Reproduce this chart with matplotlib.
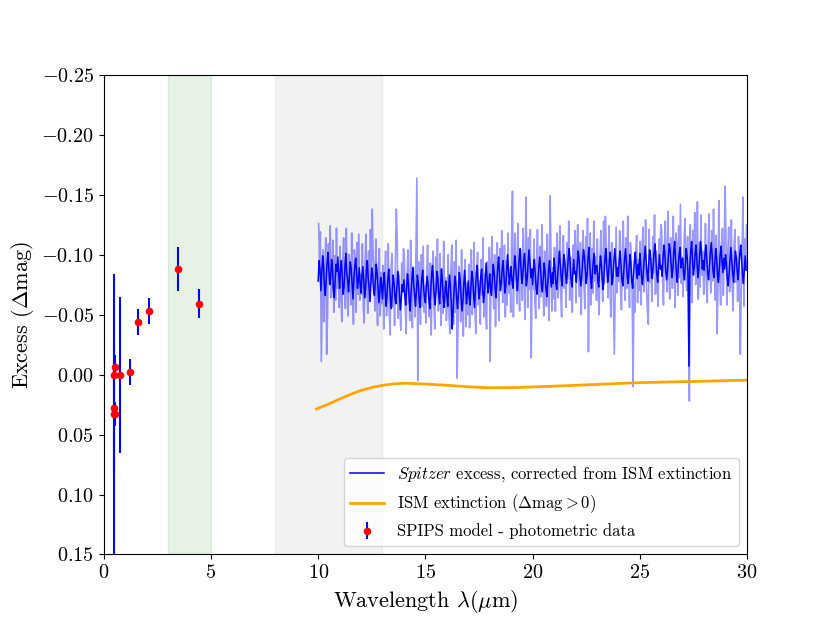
import numpy as np
import matplotlib
matplotlib.use("Agg")
import matplotlib.pyplot as plt

plt.rcParams['font.family'] = 'serif'
plt.rcParams['font.serif'] = ['cmr10', 'DejaVu Serif']
plt.rcParams['mathtext.fontset'] = 'cm'
plt.rcParams['axes.formatter.use_mathtext'] = True
plt.rcParams['xtick.labelsize'] = 14.5
plt.rcParams['ytick.labelsize'] = 14.5
plt.rcParams['axes.labelsize'] = 16
plt.rcParams['legend.fontsize'] = 12

# SPIPS model - photometric data (wavelength in um, excess, error)
phot_wl = [0.47, 0.49, 0.48, 0.51, 0.53, 0.76, 1.23, 1.60, 2.12, 3.48, 4.42]
phot_exc = [0.033, 0.028, 0.000, -0.006, 0.033, 0.000, -0.002, -0.044, -0.053, -0.088, -0.059]
phot_err = [0.117, 0.053, 0.010, 0.010, 0.010, 0.065, 0.011, 0.011, 0.011, 0.018, 0.012]

# ISM extinction curve
ism_wl = [9.92, 10.5, 11.01, 11.5, 11.95, 12.5, 12.96, 13.5, 14.05, 15.0, 16.15, 17.0,
          18.0, 19.26, 20.5, 22.06, 23.4, 24.7, 26.0, 27.35, 28.7, 30.0]
ism_mag = [0.0287, 0.0245, 0.0203, 0.0166, 0.0135, 0.0108, 0.0091, 0.0078, 0.0072, 0.0079, 0.0091, 0.0102,
           0.0110, 0.0108, 0.0100, 0.0089, 0.0079, 0.0069, 0.0063, 0.0058, 0.0052, 0.0047]

# Spitzer excess in mmag, main trace, 24 samples per micron from 10 um
spitzer_dark_mmag = [
    -78, -95, -88, -70, -84, -99, -91, -73, -66, -80, -93, -102, -87, -75, -81, -96, -90, -71, -64, -79, -92, -86, -98, -83,
    -72, -88, -95, -81, -67, -74, -90, -101, -85, -78, -69, -83, -94, -88, -76, -63, -80, -91, -97, -84, -72, -79, -89, -75,
    -68, -82, -90, -79, -64, -71, -87, -95, -80, -73, -61, -76, -89, -84, -70, -66, -78, -92, -85, -72, -60, -69, -81, -74,
    -63, -77, -85, -70, -57, -66, -80, -88, -74, -62, -55, -71, -83, -76, -64, -59, -72, -86, -79, -67, -54, -63, -75, -69,
    -79, -65, -58, -72, -84, -76, -61, -53, -68, -81, -89, -74, -66, -57, -70, -83, -77, -63, -56, -69, -80, -87, -72, -64,
    -60, -73, -82, -75, -62, -55, -69, -84, -91, -77, -65, -58, -71, -86, -80, -66, -59, -74, -88, -79, -63, -56, -70, -78,
    -66, -57, -71, -83, -74, -60, -38, -52, -69, -82, -77, -63, -55, -68, -85, -79, -64, -53, -61, -76, -87, -72, -59, -67,
    -78, -65, -58, -73, -86, -80, -67, -56, -70, -84, -91, -76, -63, -69, -82, -88, -74, -60, -66, -79, -93, -81, -68, -75,
    -84, -71, -66, -80, -92, -85, -72, -64, -77, -90, -98, -83, -70, -76, -89, -95, -81, -68, -74, -87, -100, -88, -75, -82,
    -90, -78, -72, -86, -99, -92, -79, -70, -83, -96, -105, -89, -76, -82, -95, -101, -87, -74, -80, -93, -104, -94, -81, -88,
    -75, -89, -96, -84, -72, -67, -78, -90, -98, -87, -74, -69, -81, -93, -86, -71, -65, -77, -88, -95, -82, -73, -85, -76,
    -97, -89, -77, -71, -82, -94, -103, -92, -81, -74, -88, -100, -95, -83, -76, -87, -98, -105, -93, -80, -73, -85, -96, -84,
    -86, -77, -92, -103, -96, -82, -74, -81, -94, -104, -99, -87, -76, -83, -97, -106, -92, -80, -72, -85, -95, -101, -84, -90,
    -91, -78, -73, -87, -99, -92, -79, -71, -84, -97, -105, -90, -77, -83, -96, -102, -88, -75, -81, -94, -105, -95, -82, -89,
    -82, -96, -103, -91, -79, -74, -85, -97, -105, -94, -81, -76, -88, -100, -93, -78, -72, -84, -95, -102, -89, -80, -92, -83,
    -101, -93, -81, -75, -86, -98, -107, -96, -85, -78, -92, -104, -99, -87, -80, -91, -102, -109, -97, -84, -77, -89, -100, -88,
    -91, -82, -97, -108, -101, -87, -79, -86, -99, -109, -104, -92, -81, -88, -102, -111, -97, -85, -77, -90, -100, -106, -89, -95,
    -97, -84, -79, -93, -105, -98, -85, -7, -90, -103, -111, -96, -83, -89, -102, -108, -94, -81, -87, -100, -111, -101, -88, -95,
    -87, -101, -108, -96, -84, -79, -90, -102, -110, -99, -86, -81, -93, -105, -98, -83, -77, -89, -100, -107, -94, -85, -97, -88,
    -100, -92, -80, -74, -85, -97, -106, -95, -84, -77, -91, -103, -98, -86, -79, -90, -101, -108, -96, -83, -76, -88, -99, -87,
]

# Spitzer excess in mmag, noisier trace, offset by half a sample
spitzer_light_mmag = [
    -126, -96, -119, -11, -59, -104, -44, -89, -114, -17, -49, -109, -79, -124, -64, -74, -112, -52, -99, -62, -122, -72, -92, -56,
    -107, -64, -44, -92, -114, -77, -55, -122, -70, -49, -100, -87, -58, -118, -74, -42, -104, -94, -52, -110, -67, -117, -62, -84,
    -67, -109, -57, -43, -94, -117, -73, -51, -103, -61, -121, -76, -138, -99, -87, -53, -113, -65, -41, -91, -105, -49, -85, -59,
    -91, -38, -81, -103, -49, -63, -109, -53, -33, -87, -101, -57, -77, -41, -95, -138, -113, -47, -83, -55, -37, -93, -69, -105,
    -97, -54, -34, -82, -104, -67, -45, -112, -60, -39, -90, -77, -48, -108, -164, 5, -94, -84, -42, -100, -57, -107, -52, -74,
    -43, -85, -108, -65, -48, -93, -33, -78, -103, -58, -38, -98, -68, -113, -53, -63, -101, -41, -88, -51, -111, -61, -81, -45,
    -58, -100, -48, -34, -85, -108, -64, -42, -94, -52, -112, 3, -36, -90, -78, -44, -104, -56, -32, -82, -96, -40, -76, -50,
    -92, -39, -82, -104, -50, -64, -110, -54, -34, -88, -102, -58, -78, -42, -96, -66, -114, -48, -84, -56, -38, -94, -70, -106,
    -11, -92, -115, -72, -55, -100, -40, -85, -110, -65, -45, -105, -75, -120, -60, -70, -108, -48, -95, -58, -118, -68, -88, -52,
    -111, -153, -48, -96, -118, -81, -59, -126, -74, -53, -104, -91, -62, -122, -78, -46, -148, -98, -56, -114, -71, -121, -14, -88,
    -71, -113, -61, -47, -98, -121, -77, -55, -107, -65, -125, -80, -49, -103, -91, -57, -117, -69, -45, -149, -109, -53, -89, -63,
    -106, -53, -96, -118, -64, -78, -124, -68, -48, -102, -116, -72, -92, -56, -110, -80, -128, -62, -98, -70, -52, -108, -84, -120,
    -60, -102, -125, -82, -65, -110, -50, -95, -120, -75, -55, -115, -85, -130, -19, -80, -118, -58, -105, -68, -128, -78, -98, -62,
    -113, -70, -50, -98, -120, -83, -61, -128, -76, -132, -106, -93, -64, -124, -80, -48, -110, -100, -58, -17, -73, -123, -68, -90,
    -78, -120, -68, -54, -105, -128, -84, -62, -114, -72, -132, -87, -56, -110, -98, -64, 10, -76, -52, -102, -116, -60, -96, -70,
    -111, -58, -101, -123, -69, -83, -129, -73, -53, -42, -121, -77, -97, -61, -115, -85, -133, -67, -103, -75, -57, -113, -89, -125,
    -121, -78, -58, -106, -128, -91, -69, -136, -84, -63, -114, -101, -72, -132, -88, -56, -118, -108, -66, -124, -81, -142, -76, -98,
    -65, -107, -130, -87, -70, -115, -55, 22, -125, -80, -60, -120, -90, -135, -75, -85, -144, -63, -110, -73, -133, -83, -103, -67,
    -84, -126, -74, -60, -111, -134, -90, -68, -120, -78, -138, -93, -62, -116, -34, -70, -145, -82, -58, -108, -122, -66, -102, -157,
    -111, -58, -101, -123, -69, -83, -129, -73, -53, -107, -121, -77, -97, -61, -115, -85, -17, -67, -103, -148, -57, -113, -89, -125,
]

spitzer_dark = np.array(spitzer_dark_mmag) / 1000
spitzer_light = np.array(spitzer_light_mmag) / 1000
wl_dark = 10 + np.arange(len(spitzer_dark)) / 24
wl_light = 10 + (np.arange(len(spitzer_light)) + 0.5) / 24

fig, ax = plt.subplots(figsize=(8.3, 6.23), dpi=100)

ax.axvspan(3, 5, color='green', alpha=0.1)
ax.axvspan(8, 13, color='grey', alpha=0.1)

ax.plot(wl_light, spitzer_light, color='blue', lw=1.2, alpha=0.4)
ax.plot(wl_dark, spitzer_dark, color='blue', lw=1.1,
        label=r'$\it{Spitzer}$ excess, corrected from ISM extinction')
ax.plot(ism_wl, ism_mag, color='orange', lw=2, label=r'ISM extinction ($\Delta{\rm mag} > 0$)')
ax.errorbar(phot_wl, phot_exc, yerr=phot_err, fmt='o', color='red', ecolor='blue',
            markersize=4.5, elinewidth=1.5, label='SPIPS model - photometric data')

ax.set_xlim(0, 30)
ax.set_ylim(0.15, -0.25)
ax.set_xlabel(r'Wavelength $\lambda(\mu{\rm m})$')
ax.set_ylabel(r'Excess ($\Delta$mag)')
ax.legend(loc='lower right')

plt.savefig('out.png')
